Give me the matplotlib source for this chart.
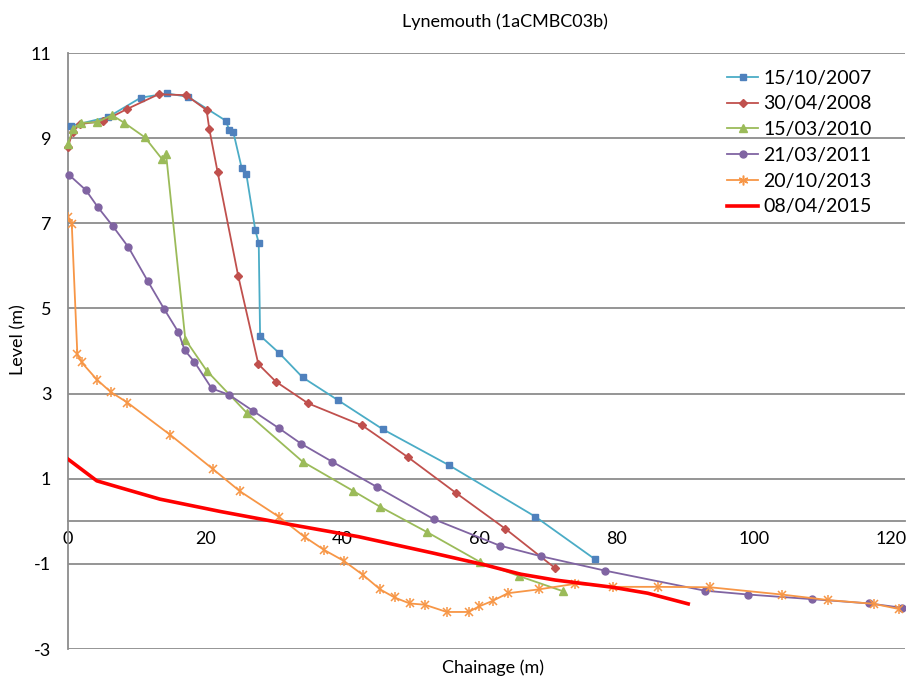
import matplotlib
matplotlib.use("Agg")
import matplotlib.pyplot as plt
from matplotlib.lines import Line2D

plt.rcParams['font.family'] = ['Lato', 'DejaVu Sans']
plt.rcParams['axes.unicode_minus'] = False

# --- Survey profiles (chainage m, level m) ---
x_2007 = [0.5, 5.9, 10.6, 14.4, 17.5, 23.0, 23.5, 24.1, 25.3, 26.0, 27.3, 27.8,
          28.0, 30.8, 34.2, 39.3, 45.9, 55.5, 68.1, 76.8]
y_2007 = [9.29, 9.50, 9.95, 10.05, 9.97, 9.41, 9.19, 9.14, 8.31, 8.15, 6.84, 6.54,
          4.36, 3.95, 3.38, 2.85, 2.16, 1.32, 0.11, -0.89]

x_2008 = [0.0, 0.7, 1.75, 5.15, 8.55, 13.2, 17.2, 20.2, 20.6, 21.8, 24.8, 27.75,
          30.3, 35.0, 42.9, 49.6, 56.6, 63.7, 71.0]
y_2008 = [8.80, 9.15, 9.33, 9.40, 9.68, 10.03, 10.01, 9.66, 9.21, 8.21, 5.77, 3.69,
          3.28, 2.77, 2.25, 1.50, 0.66, -0.17, -1.10]

x_2010 = [0.0, 0.7, 1.85, 4.2, 6.4, 8.2, 11.2, 13.7, 14.3, 17.1, 20.2, 26.1,
          34.2, 41.5, 45.5, 52.4, 60.1, 65.8, 72.1]
y_2010 = [8.86, 9.21, 9.36, 9.37, 9.54, 9.36, 9.02, 8.51, 8.62, 4.27, 3.54, 2.54,
          1.40, 0.72, 0.34, -0.26, -0.96, -1.29, -1.64]

x_2011 = [0.2, 2.6, 4.3, 6.5, 8.8, 11.6, 14.0, 16.1, 17.0, 18.4, 20.95, 23.5, 26.9,
          30.8, 34.0, 38.5, 45.1, 53.3, 62.9, 68.9, 78.3, 92.8, 99.1, 108.5, 116.8,
          121.5]
y_2011 = [8.13, 7.78, 7.39, 6.94, 6.44, 5.65, 4.99, 4.44, 4.02, 3.75, 3.12, 2.97, 2.60,
          2.18, 1.82, 1.40, 0.80, 0.05, -0.57, -0.82, -1.16, -1.63, -1.72, -1.83, -1.93,
          -2.03]

x_2013 = [0.0, 0.55, 1.36, 2.0, 4.2, 6.2, 8.65, 14.9, 21.1, 25.1, 30.7, 34.5, 37.3,
          40.2, 43.0, 45.5, 47.6, 49.8, 52.0, 55.2, 58.4, 59.9, 61.9, 64.1, 68.6,
          73.9, 79.4, 86.0, 93.6, 104.0, 110.8, 117.5, 121.1]
y_2013 = [7.14, 6.98, 3.93, 3.73, 3.33, 3.04, 2.79, 2.03, 1.23, 0.70, 0.11, -0.37, -0.67,
          -0.93, -1.26, -1.60, -1.79, -1.93, -1.96, -2.13, -2.13, -2.00, -1.87, -1.69,
          -1.60, -1.47, -1.54, -1.54, -1.55, -1.72, -1.85, -1.94, -2.06]

x_2015 = [0.0, 4.2, 7.6, 13.4, 22.2, 32.2, 42.3, 53.3, 60.9, 65.9, 71.0, 79.4, 84.5, 90.4]
y_2015 = [1.46, 0.95, 0.79, 0.52, 0.23, -0.07, -0.36, -0.75, -1.03, -1.24, -1.38, -1.55,
          -1.69, -1.94]

x_ticks = [0, 20, 40, 60, 80, 100, 120]
y_ticks = [-3, -1, 1, 3, 5, 7, 9, 11]

fig = plt.figure(figsize=(9.06, 6.77), dpi=100)
ax = fig.add_axes([68 / 906, 1 - 649 / 677, 837 / 906, 596 / 677])

grid_col = '#8c8c8c'

# series: (x, y, line colour, marker, marker colour, label)
series = [
    (x_2007, y_2007, '#4BACC6', 's', '#4F81BD', '15/10/2007'),
    (x_2008, y_2008, '#C0504D', 'D', '#C0504D', '30/04/2008'),
    (x_2010, y_2010, '#9BBB59', '^', '#9BBB59', '15/03/2010'),
    (x_2011, y_2011, '#8064A2', 'o', '#8064A2', '21/03/2011'),
]
ms = {'s': 4.2, 'D': 4.5, '^': 6, 'o': 5}
handles = []
for xs, ys, lc, mk, mc, lab in series:
    ax.plot(xs, ys, color=lc, lw=1.3, marker=mk, ms=ms[mk], mfc=mc, mec=mc,
            zorder=3, clip_on=False)
    handles.append(Line2D([0], [0], color=lc, lw=1.3, marker=mk, ms=ms[mk],
                          mfc=mc, mec=mc, label=lab))

ax.plot(x_2013, y_2013, color='#F79646', lw=1.3, zorder=3)
ax.plot(x_2013, y_2013, ls='none', marker='x', ms=6, mew=1.1, color='#F79646', zorder=3)
ax.plot(x_2013, y_2013, ls='none', marker='|', ms=7, mew=1.1, color='#F79646', zorder=3)
handles.append(Line2D([0], [0], color='#F79646', lw=1.3, marker=(6, 2, 0), ms=7,
                      mew=1.1, label='20/10/2013'))

ax.plot(x_2015, y_2015, color='#FF0000', lw=2.6, zorder=4)
handles.append(Line2D([0], [0], color='#FF0000', lw=2.6, label='08/04/2015'))

ax.set_xlim(0, 122)
ax.set_ylim(-3, 11)
ax.set_xticks(x_ticks)
ax.set_yticks(y_ticks)
ax.yaxis.grid(True, color=grid_col, lw=1.3)
ax.set_axisbelow(True)
ax.tick_params(length=0, labelsize=13)
ax.tick_params(axis='x', pad=7)
ax.tick_params(axis='y', pad=12)

for s in ['top', 'right']:
    ax.spines[s].set_visible(False)
ax.spines['left'].set_color(grid_col)
ax.spines['left'].set_linewidth(1.3)
ax.spines['bottom'].set_position(('data', 0))
ax.spines['bottom'].set_color(grid_col)
ax.spines['bottom'].set_linewidth(1.3)

ax.legend(handles=handles, loc='upper left', bbox_to_anchor=(0.778, 0.985),
          frameon=False, fontsize=14, handlelength=1.6, handletextpad=0.28,
          labelspacing=0.45, borderaxespad=0)

fig.text(505 / 906, 1 - 22 / 677, 'Lynemouth (1aCMBC03b)', ha='center', va='center',
         fontsize=13)
fig.text(18 / 906, 1 - 340 / 677, 'Level (m)', rotation=90, ha='center', va='center',
         fontsize=13)
fig.text(493 / 906, 1 - 668 / 677, 'Chainage (m)', ha='center', va='center',
         fontsize=13)

fig.savefig('out.png', dpi=100)
